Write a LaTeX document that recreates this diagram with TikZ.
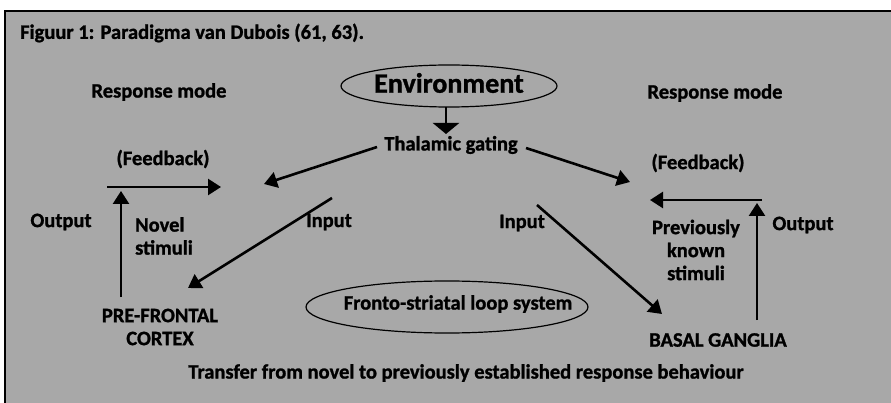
\documentclass[tikz,border=0pt]{standalone}
\usepackage{fontspec}
\setmainfont{Carlito}[BoldFeatures={FakeBold=1.2}]
\usetikzlibrary{arrows.meta,shapes.geometric}
\begin{document}
\begin{tikzpicture}[x=1pt,y=-1pt,
  lbl/.style={font=\bfseries\fontsize{20.5}{23}\selectfont, inner sep=0pt, align=center},
  arr/.style={line width=2.6pt, -{Triangle[length=13pt,width=16pt]}},
  ell/.style={draw, line width=1.2pt, ellipse, inner sep=0pt}]
\useasboundingbox (0,0) rectangle (891,403);
\fill[white] (0,0) rectangle (891,403);
\fill[gray!68] (5,11) rectangle (891,403);
\draw[line width=2.2pt] (5,403) -- (5,11) -- (891,11);
% texts
\node[lbl, anchor=west] (title) at (20,33) {Figuur 1: Paradigma van Dubois (61, 63).};
\node[lbl] (rmL) at (159,92) {Response mode};
\node[lbl] (rmR) at (715,93) {Response mode};
\node[ell, minimum width=216pt, minimum height=42pt] (envE) at (449,86) {};
\node[font=\bfseries\fontsize{28}{30}\selectfont, inner sep=0pt] (env) at (449,83) {Environment};
\node[lbl] (thal) at (451,145) {Thalamic gating};
\coordinate (envB) at (446,107);
\coordinate (thalT) at (446,134);
\draw[line width=2.6pt, -{Triangle[length=11pt,width=26pt]}] (envB) -- (thalT);
\node[lbl] (fbL) at (163,159) {(Feedback)};
\node[lbl] (fbR) at (698,163) {(Feedback)};
\node[lbl] (outL) at (61,222) {Output};
\node[lbl, align=left] (novel) at (164,236) {Novel\\stimuli};
\node[lbl] (inL) at (329,222) {Input};
\node[lbl] (inR) at (522,223) {Input};
\node[lbl] (prev) at (696,250) {Previously\\known\\stimuli};
\node[lbl] (outR) at (803,225) {Output};
\node[lbl] (pfc) at (160,327) {PRE-FRONTAL\\CORTEX};
\node[lbl] (bg) at (718,340) {BASAL GANGLIA};
\node[ell, minimum width=282pt, minimum height=52pt] (fsE) at (447,307) {};
\node[lbl] (fs) at (458,304) {Fronto-striatal loop system};
\node[lbl] (transfer) at (466,373) {Transfer from novel to previously established response behaviour};
% arrows
\coordinate (tL1) at (377,147);
\coordinate (tL2) at (264,184);
\draw[arr] (tL1) -- (tL2);
\coordinate (tR1) at (526,148);
\coordinate (tR2) at (630,182);
\draw[arr] (tR1) -- (tR2);
\coordinate (fbL1) at (107,187);
\coordinate (fbL2) at (221,187);
\draw[arr] (fbL1) -- (fbL2);
\coordinate (fbR1) at (762,200);
\coordinate (fbR2) at (650,200);
\draw[arr] (fbR1) -- (fbR2);
\coordinate (vL1) at (121,297);
\coordinate (vL2) at (121,191);
\draw[arr] (vL1) -- (vL2);
\coordinate (vR1) at (757,320);
\coordinate (vR2) at (757,203);
\draw[arr] (vR1) -- (vR2);
\coordinate (iL1) at (332,198);
\coordinate (iL2) at (188,288);
\draw[arr] (iL1) -- (iL2);
\coordinate (iR1) at (537,205);
\coordinate (iR2) at (662,314);
\draw[arr] (iR1) -- (iR2);
\end{tikzpicture}
\end{document}
